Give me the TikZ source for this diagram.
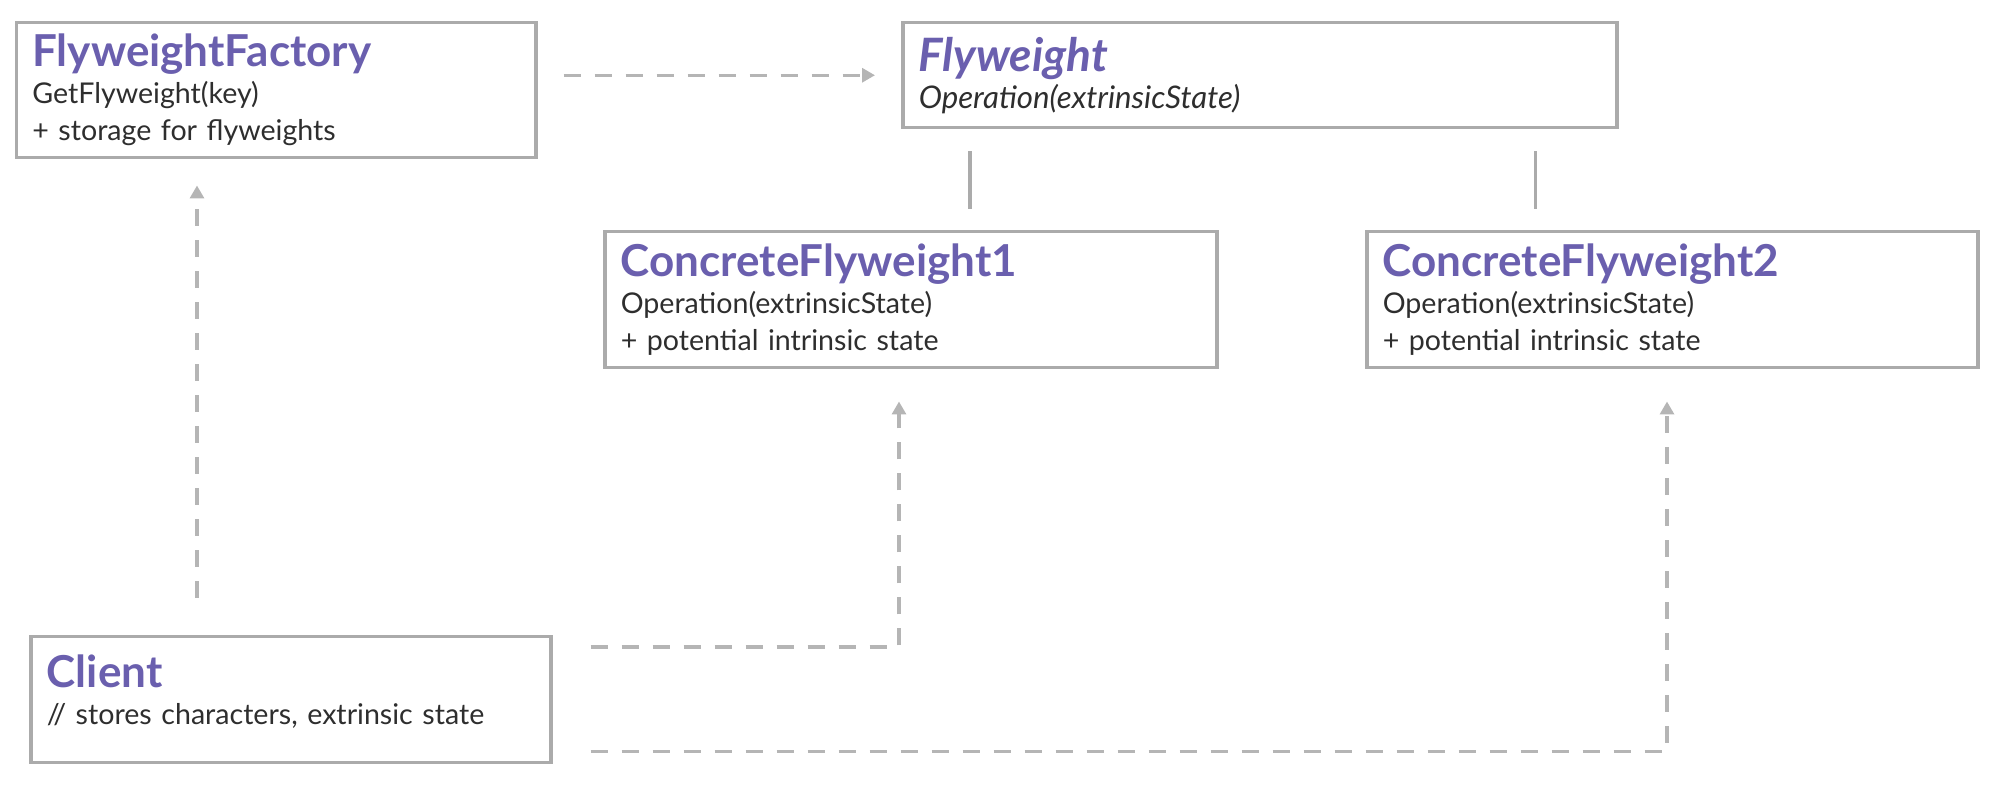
\documentclass[tikz,border=0pt]{standalone}
\usepackage{fontspec}
\setmainfont{Lato}
\usepackage{tikz}
\usetikzlibrary{arrows.meta,positioning}

\definecolor{boxgray}{HTML}{ABABAB}
\definecolor{linegray}{HTML}{B5B5B5}
\definecolor{titlepurple}{HTML}{6A5FAE}
\definecolor{textgray}{HTML}{2E2E2E}
\newcommand{\clsname}[1]{{\fontsize{22}{26}\selectfont\bfseries\color{titlepurple}#1}}

\begin{document}
\begin{tikzpicture}[>={Triangle[length=6.5pt,width=7pt]},
        cls/.style={draw=boxgray,line width=1.75pt,anchor=north west,
          inner xsep=8pt,inner ysep=0pt,align=left,text=textgray,
          font=\fontsize{14.3}{18.5}\selectfont},
        dep/.style={->,draw=linegray,line width=1.6pt,dash pattern=on 8.5pt off 7pt},
        gen/.style={draw=boxgray,line width=1.6pt}]

  \useasboundingbox (0,0) rectangle (997pt,-400.5pt);

  \node[cls,text width=243.7pt,minimum height=67.5pt] (factory) at (7.3pt,-10.5pt)
    {\clsname{FlyweightFactory}\\GetFlyweight(key)\\+ storage for flyweights};
  \node[cls,text width=341pt,minimum height=52.5pt,font=\fontsize{15.6}{18.5}\selectfont\itshape]
    (fw) at (450.5pt,-10.5pt)
    {\clsname{\fontsize{23}{26}\selectfont Flyweight}\\Operation(extrinsicState)};
  \node[cls,text width=290pt,minimum height=68pt] (cf1) at (301.5pt,-115pt)
    {\clsname{ConcreteFlyweight1}\\Operation(extrinsicState)\\+ potential intrinsic state};
  \node[cls,text width=289.5pt,minimum height=68pt] (cf2) at (682.5pt,-115pt)
    {\clsname{ConcreteFlyweight2}\\Operation(extrinsicState)\\+ potential intrinsic state};
  \node[cls,text width=244pt,minimum height=63pt] (client) at (14.5pt,-317.5pt)
    {\clsname{Client}\\// stores characters, extrinsic state\rule[-10.5pt]{0pt}{0pt}};

  % factory creates flyweights
  \draw[dep,shorten <=13pt,shorten >=13pt] (factory.east |- fw.west) -- (fw.west);

  % subclasses
  \draw[gen,shorten <=11pt,shorten >=10.5pt] ([xshift=34.5pt]fw.south west)
    -- ([xshift=34.5pt]fw.south west |- cf1.north);
  \draw[gen,shorten <=11pt,shorten >=10.5pt] ([xshift=-41.5pt]fw.south east)
    -- ([xshift=-41.5pt]fw.south east |- cf2.north);

  % client uses
  \draw[dep,shorten <=18.5pt,shorten >=13pt] ([xshift=84pt]client.north west)
    -- ([xshift=84pt]client.north west |- factory.south);
  \draw[dep,shorten <=19pt,shorten >=16pt] ([yshift=-6pt]client.north east)
    -| ([xshift=148pt]cf1.south west);
  \draw[dep,shorten <=19pt,shorten >=16pt] ([yshift=6.5pt]client.south east)
    -| ([xshift=151pt]cf2.south west);

\end{tikzpicture}
\end{document}
